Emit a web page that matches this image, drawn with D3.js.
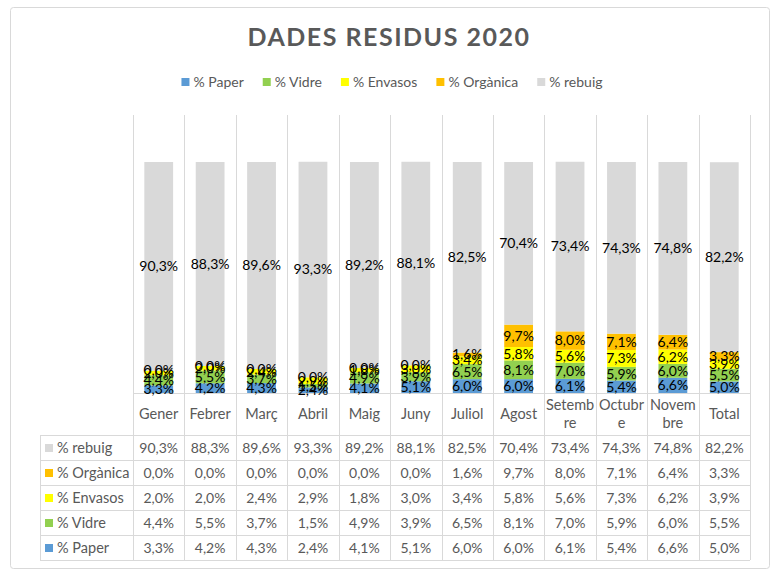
<!DOCTYPE html>
<html>
<head>
<meta charset="utf-8">
<script src="https://cdn.jsdelivr.net/npm/d3@7"></script>
<style>
  body { margin: 0; background: #fff; }
  svg text, svg tspan { font-family: Lato, "Open Sans", sans-serif; }
</style>
</head>
<body>
<div id="chart"></div>
<script>
// Chart data
const months = ["Gener", "Febrer", "Març", "Abril", "Maig", "Juny", "Juliol", "Agost", "Setembre", "Octubre", "Novembre", "Total"];
const seriesNames = ["% Paper", "% Vidre", "% Envasos", "% Orgànica", "% rebuig"];
const paper = [3.3, 4.2, 4.3, 2.4, 4.1, 5.1, 6.0, 6.0, 6.1, 5.4, 6.6, 5.0];
const vidre = [4.4, 5.5, 3.7, 1.5, 4.9, 3.9, 6.5, 8.1, 7.0, 5.9, 6.0, 5.5];
const envasos = [2.0, 2.0, 2.4, 2.9, 1.8, 3.0, 3.4, 5.8, 5.6, 7.3, 6.2, 3.9];
const organica = [0.0, 0.0, 0.0, 0.0, 0.0, 0.0, 1.6, 9.7, 8.0, 7.1, 6.4, 3.3];
const rebuig = [90.3, 88.3, 89.6, 93.3, 89.2, 88.1, 82.5, 70.4, 73.4, 74.3, 74.8, 82.2];

const seriesValues = [paper, vidre, envasos, organica, rebuig];
const colors = ["#5B9BD5", "#92D050", "#FFFF00", "#FFC000", "#D9D9D9"];

// build rows for d3.stack
const rows = months.map((m, i) => {
  const r = { month: m };
  seriesNames.forEach((s, j) => { r[s] = seriesValues[j][i]; });
  return r;
});

const W = 777, H = 577;
const plotLeft = 133, plotRight = 750;
const plotTop = 115, baseY = 393, barTop = 162;
const tableTop = 435, rowH = 25, tableLeft = 40;
const gridColor = "#D9D9D9", textColor = "#595959";
const FONT = "Lato, 'Open Sans', sans-serif";

const locale = d3.formatLocale({ decimal: ",", thousands: ".", grouping: [3], currency: ["", "€"] });
const fmt = v => locale.format(".1f")(v) + "%";

const svg = d3.select("#chart").append("svg")
  .attr("width", W)
  .attr("height", H)
  .attr("font-family", FONT);

// chart border
svg.append("rect")
  .attr("x", 10.5).attr("y", 7.5)
  .attr("width", 759).attr("height", 561)
  .attr("rx", 3)
  .attr("fill", "#fff")
  .attr("stroke", gridColor);

// Title
svg.append("text")
  .attr("x", 389).attr("y", 46)
  .attr("text-anchor", "middle")
  .attr("fill", textColor)
  .style("font-size", "25px")
  .style("font-weight", "bold")
  .style("letter-spacing", "1.5px")
  .text("DADES RESIDUS 2020");

// scales
const x = d3.scaleBand()
  .domain(months)
  .range([plotLeft, plotRight])
  .paddingInner(0.44)
  .paddingOuter(0.22);

const y = d3.scaleLinear()
  .domain([0, 100])
  .range([baseY, barTop]);

const step = x.step();
const bandStart = m => plotLeft + months.indexOf(m) * step;

// Vertical grid lines (plot + table)
const grid = svg.append("g").attr("stroke", gridColor).attr("stroke-width", 1);
d3.range(months.length + 1).forEach(i => {
  const gx = Math.round(plotLeft + i * step) + 0.5;
  grid.append("line")
    .attr("x1", gx).attr("x2", gx)
    .attr("y1", plotTop).attr("y2", tableTop + rowH * 5);
});
grid.append("line")
  .attr("x1", tableLeft + 0.5).attr("x2", tableLeft + 0.5)
  .attr("y1", tableTop).attr("y2", tableTop + rowH * 5);
// axis line
grid.append("line")
  .attr("x1", plotLeft).attr("x2", plotRight)
  .attr("y1", baseY + 0.5).attr("y2", baseY + 0.5);
// table horizontal lines
d3.range(6).forEach(i => {
  const gy = tableTop + i * rowH + 0.5;
  grid.append("line")
    .attr("x1", tableLeft).attr("x2", plotRight)
    .attr("y1", gy).attr("y2", gy);
});

// Stacked bars
const stack = d3.stack().keys(seriesNames);
const stacked = stack(rows);

const layers = svg.append("g").selectAll("g")
  .data(stacked)
  .join("g")
  .attr("fill", (d, i) => colors[i]);

layers.selectAll("rect")
  .data(d => d)
  .join("rect")
  .attr("x", d => x(d.data.month))
  .attr("y", d => y(d[1]))
  .attr("width", x.bandwidth())
  .attr("height", d => Math.max(0, y(d[0]) - y(d[1])));

// Data labels
const labels = svg.append("g");
stacked.forEach(layer => {
  labels.selectAll(null)
    .data(layer)
    .join("text")
    .attr("x", d => x(d.data.month) + x.bandwidth() / 2)
    .attr("y", d => (y(d[0]) + y(d[1])) / 2)
    .attr("dy", "0.35em")
    .attr("text-anchor", "middle")
    .attr("fill", "#000")
    .attr("font-family", FONT)
    .style("font-size", "14px")
    .text(d => fmt(d.data[layer.key]));
});

// Category labels with char wrap (like Excel)
const catG = svg.append("g");
months.forEach(m => {
  const cx = bandStart(m) + step / 2;
  const t = catG.append("text")
    .attr("x", cx)
    .attr("text-anchor", "middle")
    .attr("fill", textColor)
    .attr("font-family", FONT)
    .style("font-size", "14.5px");
  // wrap by characters
  const maxW = step - 2;
  const lines = [];
  let cur = "";
  const probe = t.append("tspan");
  for (const ch of m) {
    probe.text(cur + ch);
    if (cur && probe.node().getComputedTextLength() > maxW) {
      lines.push(cur);
      cur = ch;
    } else {
      cur += ch;
    }
  }
  lines.push(cur);
  probe.remove();
  const lh = 18;
  const midY = (baseY + tableTop) / 2;
  const y0 = midY - (lines.length - 1) * lh / 2;
  lines.forEach((ln, k) => {
    t.append("tspan")
      .attr("x", cx)
      .attr("y", y0 + k * lh)
      .attr("dy", "0.35em")
      .text(ln);
  });
});

// Data table
const tableOrder = d3.range(seriesNames.length).reverse();
const tbl = svg.append("g");
tableOrder.forEach((si, r) => {
  const cy = tableTop + r * rowH + rowH / 2 + 0.5;
  tbl.append("rect")
    .attr("x", 45).attr("y", cy - 4)
    .attr("width", 8).attr("height", 8)
    .attr("fill", colors[si]);
  tbl.append("text")
    .attr("x", 57).attr("y", cy)
    .attr("dy", "0.35em")
    .attr("fill", textColor)
    .style("font-size", "14.5px")
    .text(seriesNames[si]);
  seriesValues[si].forEach((v, i) => {
    tbl.append("text")
      .attr("x", bandStart(months[i]) + step / 2)
      .attr("y", cy)
      .attr("dy", "0.35em")
      .attr("text-anchor", "middle")
      .attr("fill", textColor)
      .style("font-size", "14px")
      .text(fmt(v));
  });
});

// Legend (centered)
const legend = svg.append("g");
const items = seriesNames.map((s, i) => {
  const g = legend.append("g");
  g.append("rect").attr("width", 8).attr("height", 8).attr("y", -4).attr("fill", colors[i]);
  const t = g.append("text")
    .attr("x", 12)
    .attr("dy", "0.35em")
    .attr("fill", textColor)
    .style("font-size", "14px")
    .text(s);
  return { g, w: 12 + t.node().getComputedTextLength() };
});
const gap = 19;
const totalW = d3.sum(items, d => d.w) + gap * (items.length - 1);
let lx = 392 - totalW / 2;
items.forEach(it => {
  it.g.attr("transform", `translate(${lx},82)`);
  lx += it.w + gap;
});
</script>
</body>
</html>
